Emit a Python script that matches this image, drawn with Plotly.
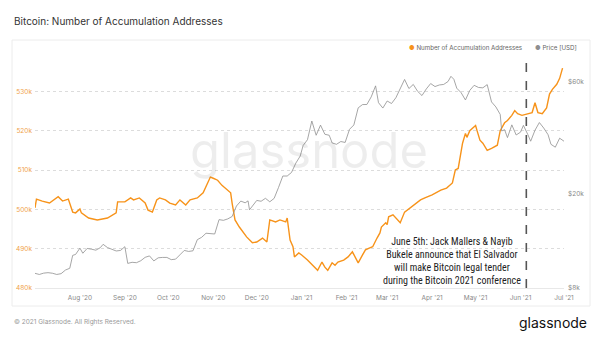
import plotly.graph_objects as go
import math

# ---------------- data ----------------
acc_dates = [
    "2020-07-01", "2020-07-02", "2020-07-06", "2020-07-11", "2020-07-17", "2020-07-20", "2020-07-24",
    "2020-07-27", "2020-07-29", "2020-08-01", "2020-08-02", "2020-08-07", "2020-08-13", "2020-08-20",
    "2020-08-26", "2020-08-27", "2020-09-01", "2020-09-05", "2020-09-07", "2020-09-11", "2020-09-15",
    "2020-09-17", "2020-09-20", "2020-09-23", "2020-09-25", "2020-09-29", "2020-10-02", "2020-10-06",
    "2020-10-09", "2020-10-13", "2020-10-16", "2020-10-21", "2020-10-25", "2020-10-28", "2020-10-30",
    "2020-11-01", "2020-11-04", "2020-11-07", "2020-11-11", "2020-11-13", "2020-11-14", "2020-11-16",
    "2020-11-19", "2020-11-24", "2020-11-28", "2020-12-01", "2020-12-05", "2020-12-08", "2020-12-10",
    "2020-12-14", "2020-12-17", "2020-12-21", "2020-12-22", "2020-12-23", "2020-12-24", "2020-12-26",
    "2020-12-27", "2020-12-30", "2021-01-01", "2021-01-05", "2021-01-07", "2021-01-09", "2021-01-12",
    "2021-01-15", "2021-01-17", "2021-01-19", "2021-01-22", "2021-01-24", "2021-01-26", "2021-01-30",
    "2021-02-02", "2021-02-05", "2021-02-07", "2021-02-09", "2021-02-12", "2021-02-14", "2021-02-17",
    "2021-02-19", "2021-02-22", "2021-02-24", "2021-02-25", "2021-02-28", "2021-03-01", "2021-03-02",
    "2021-03-05", "2021-03-08", "2021-03-10", "2021-03-13", "2021-03-18", "2021-03-24", "2021-03-27",
    "2021-04-01", "2021-04-07", "2021-04-11", "2021-04-15", "2021-04-17", "2021-04-19", "2021-04-22",
    "2021-04-24", "2021-04-25", "2021-04-27", "2021-05-01", "2021-05-02", "2021-05-04", "2021-05-06",
    "2021-05-09", "2021-05-12", "2021-05-16", "2021-05-18", "2021-05-21", "2021-05-23", "2021-05-26",
    "2021-05-28", "2021-05-30", "2021-06-02", "2021-06-06", "2021-06-09", "2021-06-11", "2021-06-13",
    "2021-06-16", "2021-06-19", "2021-06-21", "2021-06-23", "2021-06-26", "2021-06-28", "2021-06-30",
]
acc_values = [
    500.4, 502.6, 502.1, 501.6, 503.2, 502.1, 502.6,
    499.3, 499.1, 500.1, 499.1, 497.8, 497.3, 497.8,
    499.1, 501.9, 501.9, 502.9, 502.4, 502.9, 501.6,
    499.8, 499.3, 502.4, 502.9, 502.4, 501.6, 501.1,
    502.4, 501.1, 502.4, 502.9, 504.2, 506.7, 508.2,
    507.9, 507.4, 506.1, 504.9, 504.2, 501.6, 497.3,
    495.5, 493.0, 491.5, 491.7, 492.7, 491.7, 497.3,
    496.8, 497.3, 496.8, 497.8, 494.7, 492.2, 490.5,
    487.9, 488.9, 488.4, 487.1, 486.4, 485.8, 484.5,
    486.6, 485.3, 484.5, 486.4, 485.8, 486.6, 487.1,
    487.9, 489.2, 487.6, 486.4, 488.4, 489.7, 490.2,
    490.5, 492.7, 494.0, 495.5, 496.6, 496.1, 498.1,
    498.6, 497.3, 496.6, 499.3, 500.8, 502.4, 502.9,
    503.7, 504.9, 505.4, 506.7, 510.0, 510.4, 516.8,
    519.3, 518.3, 520.0, 521.3, 520.0, 517.6, 516.8,
    515.0, 515.5, 516.3, 520.0, 522.0, 522.6, 523.9,
    525.1, 524.3, 523.9, 524.3, 524.6, 527.1, 524.6,
    524.3, 525.8, 529.3, 530.5, 531.8, 533.3, 535.9,
]
acc_values = [v * 1000 for v in acc_values]

price_dates = [
    "2020-07-01", "2020-07-04", "2020-07-07", "2020-07-10", "2020-07-13", "2020-07-16", "2020-07-19",
    "2020-07-22", "2020-07-25", "2020-07-27", "2020-07-29", "2020-08-01", "2020-08-03", "2020-08-06",
    "2020-08-09", "2020-08-12", "2020-08-15", "2020-08-17", "2020-08-20", "2020-08-23", "2020-08-26",
    "2020-08-29", "2020-09-01", "2020-09-03", "2020-09-06", "2020-09-09", "2020-09-12", "2020-09-15",
    "2020-09-18", "2020-09-21", "2020-09-24", "2020-09-27", "2020-09-30", "2020-10-03", "2020-10-06",
    "2020-10-09", "2020-10-12", "2020-10-15", "2020-10-18", "2020-10-21", "2020-10-24", "2020-10-27",
    "2020-10-30", "2020-11-02", "2020-11-05", "2020-11-08", "2020-11-11", "2020-11-14", "2020-11-17",
    "2020-11-20", "2020-11-23", "2020-11-25", "2020-11-26", "2020-11-29", "2020-12-01", "2020-12-04",
    "2020-12-07", "2020-12-10", "2020-12-13", "2020-12-16", "2020-12-19", "2020-12-22", "2020-12-25",
    "2020-12-28", "2020-12-31", "2021-01-02", "2021-01-05", "2021-01-08", "2021-01-11", "2021-01-14",
    "2021-01-17", "2021-01-20", "2021-01-22", "2021-01-25", "2021-01-28", "2021-01-31", "2021-02-03",
    "2021-02-06", "2021-02-09", "2021-02-12", "2021-02-15", "2021-02-18", "2021-02-21", "2021-02-23",
    "2021-02-26", "2021-03-01", "2021-03-04", "2021-03-07", "2021-03-10", "2021-03-13", "2021-03-16",
    "2021-03-19", "2021-03-22", "2021-03-25", "2021-03-28", "2021-03-31", "2021-04-03", "2021-04-06",
    "2021-04-09", "2021-04-12", "2021-04-14", "2021-04-16", "2021-04-18", "2021-04-21", "2021-04-24",
    "2021-04-27", "2021-04-30", "2021-05-03", "2021-05-06", "2021-05-09", "2021-05-12", "2021-05-15",
    "2021-05-18", "2021-05-19", "2021-05-21", "2021-05-23", "2021-05-26", "2021-05-29", "2021-06-01",
    "2021-06-03", "2021-06-06", "2021-06-08", "2021-06-11", "2021-06-14", "2021-06-17", "2021-06-20",
    "2021-06-22", "2021-06-25", "2021-06-28", "2021-07-01",
]
price_values = [
    9230, 9130, 9250, 9290, 9240, 9130, 9200,
    9530, 9700, 11000, 11100, 11800, 11230, 11770,
    11680, 11570, 11850, 12250, 11870, 11650, 11480,
    11540, 11970, 10170, 10280, 10240, 10440, 10790,
    10940, 10420, 10740, 10780, 10780, 10550, 10600,
    11060, 11540, 11430, 11500, 12820, 13120, 13650,
    13550, 13550, 15590, 15480, 15700, 16070, 17800,
    18680, 18370, 18720, 17150, 18180, 18800, 18650,
    19190, 18550, 19180, 21310, 23860, 23850, 24700,
    27080, 28990, 32130, 34000, 40800, 35500, 39190,
    35850, 35500, 32960, 32500, 33400, 33100, 37620,
    39250, 46400, 47900, 47940, 51650, 57500, 48800,
    46300, 49600, 48400, 51200, 56000, 61200, 56000,
    58300, 54500, 52300, 55800, 58800, 57100, 58000,
    58300, 60000, 63100, 61300, 56200, 53800, 50100,
    55000, 57800, 56600, 56400, 58200, 49150, 46800,
    43500, 37000, 37500, 34700, 39300, 35600, 36600,
    39100, 35800, 33500, 37300, 40200, 38100, 35700,
    32500, 31600, 34500, 33500,
]

month_ticks = ["2020-08-01", "2020-09-01", "2020-10-01", "2020-11-01", "2020-12-01", "2021-01-01",
               "2021-02-01", "2021-03-01", "2021-04-01", "2021-05-01", "2021-06-01", "2021-07-01"]
month_labels = ["Aug '20", "Sep '20", "Oct '20", "Nov '20", "Dec '20", "Jan '21",
                "Feb '21", "Mar '21", "Apr '21", "May '21", "Jun '21", "Jul '21"]
left_ticks = [480000, 490000, 500000, 510000, 520000, 530000, 540000]
left_labels = ["480k", "490k", "500k", "510k", "520k", "530k", ""]
right_ticks = [8000, 20000, 60000]
right_labels = ["$8k", "$20k", "$60k"]
event_date = "2021-06-05"

ORANGE = "#f7931a"
GRAY = "#8f8f8f"

# ---------------- layout geometry (pixels) ----------------
W, H = 600, 338
L, R, T, B = 35, 36, 52, 50
PW, PH = W - L - R, H - T - B


def xp(px):
    return (px - L) / PW


def yp(py):
    return (H - B - py) / PH


fig = go.Figure()
fig.add_trace(go.Scatter(x=price_dates, y=price_values, yaxis="y2", mode="lines",
                         line=dict(color=GRAY, width=0.8), name="Price [USD]", showlegend=False,
                         hoverinfo="skip"))
fig.add_trace(go.Scatter(x=acc_dates, y=acc_values, mode="lines",
                         line=dict(color=ORANGE, width=1.4), name="Number of Accumulation Addresses",
                         showlegend=False, hoverinfo="skip"))

fig.update_layout(
    width=W, height=H,
    margin=dict(l=L, r=R, t=T, b=B, pad=0),
    paper_bgcolor="white", plot_bgcolor="white",
    font=dict(family="Inter, Roboto, sans-serif", color="#888"),
    xaxis=dict(type="date", range=["2020-07-01", "2021-07-01"], tickvals=month_ticks,
               ticktext=month_labels, tickfont=dict(size=6.5, color="#888"), showgrid=False,
               showline=True, linecolor="#e8e8e8", linewidth=1, ticks="", zeroline=False,
               ticklabelstandoff=3),
    yaxis=dict(range=[480000, 540000], tickvals=left_ticks, ticktext=left_labels,
               tickfont=dict(size=6.5, color="#f0a24a"), showgrid=True, gridcolor="#dcdcdc",
               griddash="dot", gridwidth=1, zeroline=False, ticks="", showline=False,
               ticklabelstandoff=2),
    yaxis2=dict(type="log", range=[math.log10(8000), math.log10(80000)], overlaying="y",
                side="right", tickvals=right_ticks, ticktext=right_labels,
                tickfont=dict(size=6.5, color="#888"), showgrid=False, zeroline=False, ticks="",
                ticklabelstandoff=3),
    showlegend=False,
)

# event line
fig.add_shape(type="line", xref="x", yref="paper", x0=event_date, x1=event_date,
              y0=0, y1=yp(55), line=dict(color="#555", width=1.6, dash="dash"))

# frame
fig.add_shape(type="rect", xref="paper", yref="paper", x0=xp(12), x1=xp(590), y0=yp(306), y1=yp(40),
              line=dict(color="#ececec", width=1), layer="below")

ann = []
# watermark
ann.append(dict(text="glassnode", xref="paper", yref="paper", x=xp(309), y=yp(150),
                xanchor="center", yanchor="middle", showarrow=False,
                font=dict(size=49, color="rgba(0,0,0,0.07)", family="Inter, sans-serif")))
# title
ann.append(dict(text="Bitcoin: Number of Accumulation Addresses", xref="paper", yref="paper",
                x=xp(12), y=yp(21), xanchor="left", yanchor="middle", showarrow=False,
                font=dict(size=10, color="#333", family="Inter, sans-serif")))
# legend
ann.append(dict(text=f"<span style='color:{ORANGE}'>●</span> Number of Accumulation Addresses",
                xref="paper", yref="paper", x=xp(524), y=yp(47), xanchor="right", yanchor="middle",
                showarrow=False, font=dict(size=6.2, color="#666", family="Inter, sans-serif")))
ann.append(dict(text=f"<span style='color:{GRAY}'>●</span> Price [USD]",
                xref="paper", yref="paper", x=xp(579), y=yp(47), xanchor="right", yanchor="middle",
                showarrow=False, font=dict(size=6.2, color="#666", family="Inter, sans-serif")))
# event annotation
ann.append(dict(text="June 5th: Jack Mallers &amp; Nayib<br>Bukele announce that El Salvador<br>"
                     "will make Bitcoin legal tender<br>during the Bitcoin 2021 conference",
                xref="x", yref="paper", x="2021-06-03", y=yp(288), xanchor="right", yanchor="bottom",
                align="center", showarrow=False,
                font=dict(size=10, color="#222", family="Liberation Sans Narrow, Roboto Condensed, sans-serif")))
# footer
ann.append(dict(text="© 2021 Glassnode. All Rights Reserved.", xref="paper", yref="paper",
                x=xp(12), y=yp(322), xanchor="left", yanchor="middle", showarrow=False,
                font=dict(size=6.5, color="#999", family="Inter, sans-serif")))
ann.append(dict(text="glassnode", xref="paper", yref="paper",
                x=xp(589), y=yp(322), xanchor="right", yanchor="middle", showarrow=False,
                font=dict(size=14, color="#111", family="Inter, sans-serif")))
fig.update_layout(annotations=ann)

fig.write_html("out.html")
